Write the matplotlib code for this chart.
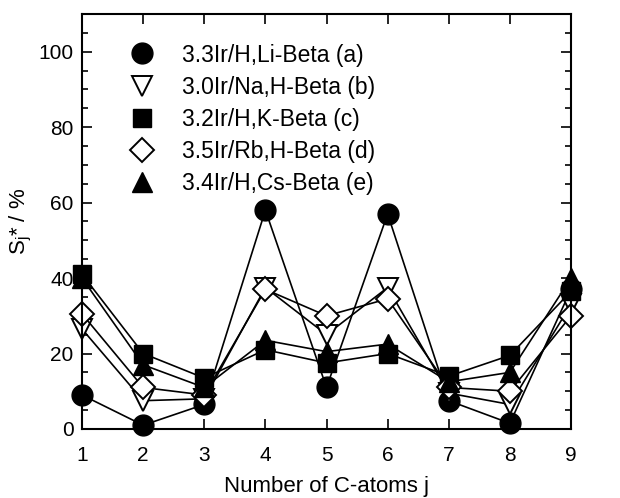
import matplotlib
matplotlib.use("Agg")
import matplotlib.pyplot as plt
from matplotlib.ticker import MultipleLocator

plt.rcParams['font.family'] = ['Liberation Sans', 'DejaVu Sans']

j = [1, 2, 3, 4, 5, 6, 7, 8, 9]

s_a = [9.0, 1.0, 6.5, 58.0, 11.0, 57.0, 7.5, 1.5, 37.0]
s_b = [26.5, 7.5, 8.0, 37.5, 25.0, 37.5, 9.5, 6.5, 33.0]
s_c = [41.0, 20.0, 13.5, 21.0, 17.5, 20.0, 14.0, 19.5, 36.5]
s_d = [30.5, 11.0, 9.0, 37.0, 30.0, 34.5, 11.0, 10.0, 30.0]
s_e = [40.0, 17.0, 11.0, 23.5, 20.5, 22.5, 12.5, 15.0, 40.0]

labels = ["3.3Ir/H,Li-Beta (a)", "3.0Ir/Na,H-Beta (b)", "3.2Ir/H,K-Beta (c)",
          "3.5Ir/Rb,H-Beta (d)", "3.4Ir/H,Cs-Beta (e)"]

fig = plt.figure(figsize=(6.2, 4.98), dpi=100)
ax = fig.add_axes([0.1323, 0.1386, 0.7887, 0.8333])

ax.plot(j, s_a, 'k-', marker='o', ms=15, mfc='k', mec='k', lw=1.2, label=labels[0])
ax.plot(j, s_b, 'k-', marker='v', ms=14, mfc='white', mec='k', mew=1.4, lw=1.2, label=labels[1])
ax.plot(j, s_c, 'k-', marker='s', ms=13, mfc='k', mec='k', lw=1.2, label=labels[2])
ax.plot(j, s_d, 'k-', marker='D', ms=12, mfc='white', mec='k', mew=1.4, lw=1.2, label=labels[3])
ax.plot(j, s_e, 'k-', marker='^', ms=14, mfc='k', mec='k', lw=1.2, label=labels[4])

ax.set_xlim(1, 9)
ax.set_ylim(0, 110)
ax.xaxis.set_major_locator(MultipleLocator(1))
ax.yaxis.set_major_locator(MultipleLocator(20))
ax.yaxis.set_minor_locator(MultipleLocator(5))
ax.tick_params(which='both', direction='in', top=True, right=True, width=1.2)
ax.tick_params(which='major', length=7, labelsize=15, pad=6)
ax.tick_params(axis='x', which='major', pad=12)
ax.tick_params(which='minor', length=4)
for sp in ax.spines.values():
    sp.set_linewidth(1.5)

ax.set_xlabel("Number of C-atoms j", fontsize=16, labelpad=8)
ax.set_ylabel("S$_\\mathregular{j}$* / %", fontsize=16, labelpad=3)

leg = ax.legend(loc='upper left', bbox_to_anchor=(0.068, 0.962), frameon=False,
                fontsize=16.5, handlelength=1.1, handletextpad=1.2, labelspacing=0.4,
                numpoints=1, borderaxespad=0.2)
for h in leg.legend_handles:
    h.set_linestyle('None')

for line in ax.lines:
    line.set_clip_on(False)

fig.savefig("out.png", dpi=100)
